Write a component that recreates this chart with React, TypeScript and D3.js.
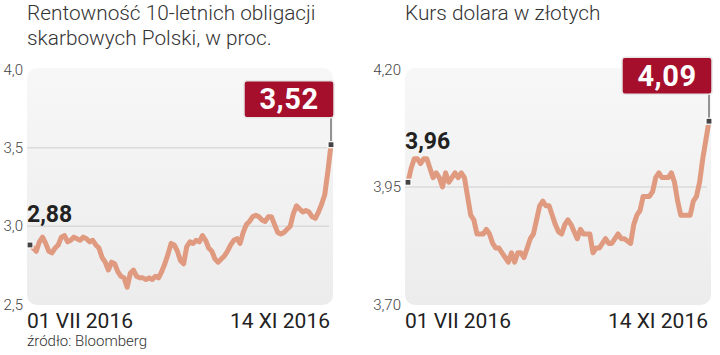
import React from 'react';
import * as d3 from 'd3';

// 10-year Polish treasury bond yield, %, business days 01 VII – 14 XI 2016
const bondYield = [
  2.88, 2.86, 2.84, 2.9, 2.93, 2.89, 2.84, 2.83, 2.86, 2.88,
  2.93, 2.94, 2.9, 2.91, 2.93, 2.92, 2.91, 2.93, 2.92, 2.9,
  2.91, 2.88, 2.86, 2.8, 2.77, 2.72, 2.77, 2.76, 2.71, 2.68,
  2.67, 2.61, 2.7, 2.72, 2.68, 2.67, 2.67, 2.66, 2.67, 2.66,
  2.68, 2.67, 2.71, 2.76, 2.82, 2.89, 2.88, 2.84, 2.78, 2.76,
  2.87, 2.9, 2.89, 2.91, 2.9, 2.94, 2.91, 2.86, 2.84, 2.79,
  2.77, 2.79, 2.81, 2.84, 2.88, 2.91, 2.92, 2.89, 2.96, 3.01,
  3.03, 3.06, 3.07, 3.06, 3.04, 3.03, 3.06, 3.06, 3.01, 2.96,
  2.95, 2.96, 2.98, 3.0, 3.08, 3.13, 3.11, 3.09, 3.1, 3.09,
  3.06, 3.05, 3.09, 3.14, 3.2, 3.35, 3.52,
];

// USD/PLN exchange rate, same days
const usdPln = [
  3.96, 3.99, 4.01, 4.01, 4.0, 4.01, 4.01, 3.99, 3.97, 3.98,
  3.97, 3.95, 3.98, 3.96, 3.97, 3.98, 3.97, 3.98, 3.97, 3.93,
  3.89, 3.88, 3.85, 3.85, 3.85, 3.86, 3.85, 3.83, 3.82, 3.82,
  3.81, 3.8, 3.79, 3.81, 3.79, 3.81, 3.81, 3.8, 3.82, 3.84,
  3.85, 3.88, 3.91, 3.92, 3.91, 3.91, 3.89, 3.87, 3.855, 3.85,
  3.87, 3.88, 3.87, 3.855, 3.84, 3.86, 3.85, 3.85, 3.85, 3.81,
  3.82, 3.82, 3.83, 3.84, 3.83, 3.83, 3.84, 3.85, 3.84, 3.84,
  3.835, 3.83, 3.87, 3.89, 3.9, 3.93, 3.93, 3.93, 3.94, 3.97,
  3.98, 3.97, 3.97, 3.97, 3.98, 3.96, 3.92, 3.89, 3.89, 3.89,
  3.89, 3.92, 3.93, 3.96, 4.01, 4.05, 4.09,
];

const bondTicks = [2.5, 3.0, 3.5, 4.0];
const usdTicks = [3.7, 3.95, 4.2];
const dateLabels = ['01 VII 2016', '14 XI 2016'];
const bondTitle = ['Rentowność 10-letnich obligacji', 'skarbowych Polski, w proc.'];
const usdTitle = ['Kurs dolara w złotych'];
const source = 'źródło: Bloomberg';

const FONT = 'Roboto, sans-serif';
const fmt = (v: number, d: number) => v.toFixed(d).replace('.', ',');

type PanelProps = {
  left: number;
  title: string[];
  values: number[];
  ticks: number[];
  decimals: number;
  startDy: number;
  id: string;
};

function Panel({ left, title, values, ticks, decimals, startDy, id }: PanelProps) {
  const width = 306;
  const x = d3.scaleLinear().domain([0, values.length - 1]).range([left + 3, left + width - 2]);
  const y = d3.scaleLinear().domain(d3.extent(ticks) as [number, number]).range([304.5, 69.5]);

  const line = d3.line<number>()
    .x((_, i) => x(i))
    .y((d) => y(d));

  const first = values[0];
  const last = values[values.length - 1];
  const x0 = x(0);
  const x1 = x(values.length - 1);
  const boxW = 90;
  const boxH = 37;
  const boxBottom = y(last) - 27;

  return (
    <g>
      {title.map((t, i) => (
        <text key={t} x={left} y={20 + i * 25} fontFamily={FONT} fontWeight={300} fontSize={20.8} fill="#333">
          {t}
        </text>
      ))}

      <rect x={left} y={68} width={width} height={237} rx={10} fill={`url(#bg-${id})`} />

      {ticks.slice(1, -1).map((t) => (
        <line key={t} x1={left} x2={left + width - 4} y1={y(t)} y2={y(t)} stroke="#cfcfcf" strokeWidth={1} />
      ))}

      {ticks.map((t) => (
        <text key={t} x={left - 4} y={y(t)} dy="0.35em" textAnchor="end" fontFamily={FONT} fontWeight={300} fontSize={15} fill="#444">
          {fmt(t, decimals)}
        </text>
      ))}

      <path d={line(values) ?? ''} fill="none" stroke="#df9a80" strokeWidth={5} strokeLinejoin="round" strokeLinecap="round" />

      <line x1={x1} x2={x1} y1={boxBottom} y2={y(last)} stroke="#333" strokeWidth={1} />

      <rect x={x0 - 3} y={y(first) - 3} width={6} height={6} fill="#444" stroke="#fff" strokeWidth={1.2} />
      <rect x={x1 - 3} y={y(last) - 3} width={6} height={6} fill="#444" stroke="#fff" strokeWidth={1.2} />

      <text x={left} y={y(first) + startDy} fontFamily={FONT} fontWeight={700} fontSize={23} fill="#222">
        {fmt(first, 2)}
      </text>

      <rect x={x1 + 3 - boxW} y={boxBottom - boxH} width={boxW} height={boxH} rx={3}
        fill="#a50f2c" stroke="#e6e6e6" strokeWidth={1.5} />
      <text x={x1 + 3 - boxW / 2} y={boxBottom - 8.5} textAnchor="middle" fontFamily={FONT} fontWeight={700} fontSize={29} letterSpacing={0.5} fill="#fff">
        {fmt(last, 2)}
      </text>

      <text x={left} y={328} fontFamily={FONT} fontWeight={400} fontSize={21} fill="#222">{dateLabels[0]}</text>
      <text x={left + width - 3} y={328} textAnchor="end" fontFamily={FONT} fontWeight={400} fontSize={21} fill="#222">{dateLabels[1]}</text>

      <defs>
        <linearGradient id={`bg-${id}`} x1="0" y1="0" x2="0" y2="1">
          <stop offset="0%" stopColor="#f7f7f7" />
          <stop offset="100%" stopColor="#ececec" />
        </linearGradient>
      </defs>
    </g>
  );
}

export default function App() {
  return (
    <svg width={720} height={355} style={{ position: 'absolute', left: 0, top: 0, background: '#fff' }}>
      <Panel id="bond" left={27} title={bondTitle} values={bondYield} ticks={bondTicks} decimals={1} startDy={-23} />
      <Panel id="usd" left={405} title={usdTitle} values={usdPln} ticks={usdTicks} decimals={2} startDy={-33} />
      <text x={27} y={346} fontFamily={FONT} fontWeight={300} fontSize={15} fill="#333">{source}</text>
    </svg>
  );
}
